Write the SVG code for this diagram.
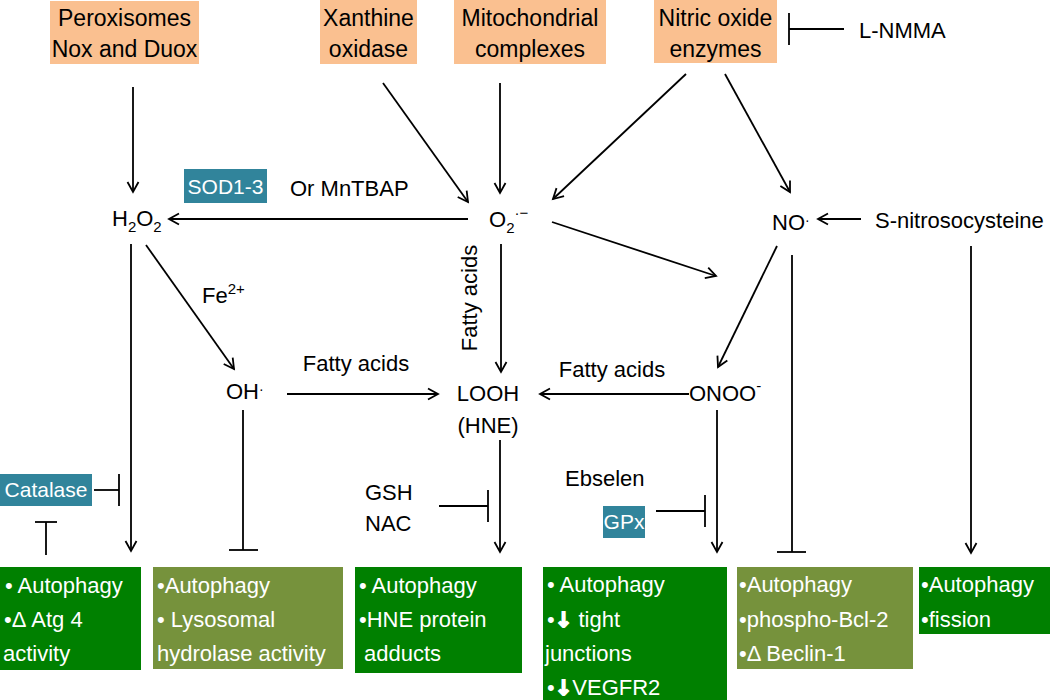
<svg xmlns="http://www.w3.org/2000/svg" width="1050" height="700" viewBox="0 0 1050 700">
<defs>
<marker id="ah" markerUnits="userSpaceOnUse" markerWidth="14" markerHeight="14" refX="11" refY="7" orient="auto">
<path d="M1,1.5 L11,7 L1,12.5" fill="none" stroke="#000" stroke-width="1.8"/>
</marker>
<style>
text{font-family:"Liberation Sans",Arial,sans-serif;font-size:22px;fill:#000}
.src rect{fill:#FAC090}
.src text{font-size:23px;text-anchor:middle}
.teal rect{fill:#31849B}
.teal text{fill:#fff;font-size:21px;text-anchor:middle}
.g rect{fill:#008000}
.o rect{fill:#76923C}
.g text,.o text{fill:#fff;font-size:22px}
.conn line{stroke:#000;stroke-width:1.8}
.conn .a{marker-end:url(#ah)}
.mid{text-anchor:middle}
.arr{font-family:"DejaVu Sans",sans-serif;font-weight:bold;font-size:21px;stroke:#fff;stroke-width:1.6}
</style>
</defs>
<rect width="1050" height="700" fill="#fff"/>

<g id="peroxisomes" class="src"><rect x="50" y="1" width="149" height="63"/><text x="124.5" y="26">Peroxisomes</text><text x="124.5" y="57">Nox and Duox</text></g>
<g id="xanthine" class="src"><rect x="320" y="0" width="97" height="64"/><text x="368.5" y="26">Xanthine</text><text x="368.5" y="57">oxidase</text></g>
<g id="mito" class="src"><rect x="454" y="0" width="152" height="64"/><text x="530" y="26">Mitochondrial</text><text x="530" y="57">complexes</text></g>
<g id="nos" class="src"><rect x="654" y="0" width="123" height="63"/><text x="715.5" y="26">Nitric oxide</text><text x="715.5" y="57">enzymes</text></g>
<g id="lnmma"><text x="859" y="38">L-NMMA</text></g>

<g id="h2o2"><text x="112" y="226">H<tspan font-size="15" dy="6">2</tspan><tspan dy="-6">O</tspan><tspan font-size="15" dy="6">2</tspan></text></g>
<g id="sod" class="teal"><rect x="184" y="169" width="83" height="34"/><text x="225.5" y="194">SOD1-3</text></g>
<g id="mntbap"><text x="290" y="196">Or MnTBAP</text></g>
<g id="o2"><text x="489" y="227">O<tspan font-size="15" dy="6">2</tspan><tspan font-size="15" dy="-15">·−</tspan></text></g>
<g id="no"><text x="772" y="230">NO<tspan font-size="14" dy="-5">·</tspan></text></g>
<g id="snitro"><text x="875" y="228">S-nitrosocysteine</text></g>
<g id="fe"><text x="202" y="303">Fe<tspan font-size="15" dy="-9">2+</tspan></text></g>
<g id="oh"><text x="226" y="399">OH<tspan font-size="14" dy="-5">·</tspan></text></g>
<g id="looh"><text x="488" y="401" class="mid">LOOH</text><text x="488" y="433" class="mid">(HNE)</text></g>
<g id="onoo"><text x="689" y="401">ONOO<tspan font-size="15" dy="-10">-</tspan></text></g>
<g id="fa1"><text x="356" y="371" class="mid">Fatty acids</text></g>
<g id="fa2"><text x="612" y="377" class="mid">Fatty acids</text></g>
<g id="fa3"><text transform="translate(477,298) rotate(-90)" class="mid">Fatty acids</text></g>
<g id="catalase" class="teal"><rect x="0" y="474" width="92" height="32"/><text x="46" y="497">Catalase</text></g>
<g id="gsh"><text x="365" y="500">GSH</text><text x="365" y="531">NAC</text></g>
<g id="ebselen"><text x="565" y="486">Ebselen</text></g>
<g id="gpx" class="teal"><rect x="603" y="506" width="42" height="32"/><text x="624" y="529">GPx</text></g>

<g id="out1" class="g"><rect x="0" y="567" width="141" height="103"/><text x="5" y="593">• Autophagy</text><text x="4" y="627">•Δ Atg 4</text><text x="3" y="661">activity</text></g>
<g id="out2" class="o"><rect x="153" y="567" width="190" height="102"/><text x="157" y="593">•Autophagy</text><text x="157" y="627">• Lysosomal</text><text x="157" y="661">hydrolase activity</text></g>
<g id="out3" class="g"><rect x="355" y="567" width="167" height="106"/><text x="359" y="593">• Autophagy</text><text x="359" y="627">•HNE protein</text><text x="364" y="661">adducts</text></g>
<g id="out4" class="g"><rect x="543" y="567" width="184" height="133"/><text x="547" y="592">• Autophagy</text><text x="547" y="627">•<tspan class="arr">↓</tspan> tight</text><text x="545" y="661">junctions</text><text x="547" y="695">•<tspan class="arr">↓</tspan>VEGFR2</text></g>
<g id="out5" class="o"><rect x="737" y="567" width="176" height="102"/><text x="739" y="592">•Autophagy</text><text x="739" y="627">•phospho-Bcl-2</text><text x="739" y="661">•Δ Beclin-1</text></g>
<g id="out6" class="g"><rect x="919" y="567" width="131" height="67"/><text x="921" y="592">•Autophagy</text><text x="921" y="627">•fission</text></g>

<g id="connectors" class="conn">
<line class="a" x1="133" y1="87" x2="133" y2="192"/>
<line class="a" x1="383" y1="83" x2="468" y2="202"/>
<line class="a" x1="500" y1="83" x2="500" y2="193"/>
<line class="a" x1="686" y1="74" x2="553" y2="199"/>
<line class="a" x1="725" y1="74" x2="790" y2="192"/>
<line x1="844" y1="29" x2="789" y2="29"/><line x1="789" y1="13" x2="789" y2="45"/>
<line class="a" x1="468" y1="219" x2="169" y2="219"/>
<line class="a" x1="552" y1="222" x2="716" y2="276"/>
<line class="a" x1="861" y1="219" x2="818" y2="219"/>
<line class="a" x1="131" y1="244" x2="131" y2="551"/>
<line class="a" x1="146" y1="245" x2="234" y2="369"/>
<line class="a" x1="501" y1="244" x2="501" y2="372"/>
<line class="a" x1="777" y1="246" x2="718" y2="367"/>
<line class="a" x1="287" y1="394" x2="438" y2="394"/>
<line class="a" x1="689" y1="394" x2="540" y2="394"/>
<line x1="243" y1="410" x2="243" y2="550"/><line x1="229" y1="550" x2="258" y2="550"/>
<line class="a" x1="500" y1="440" x2="500" y2="552"/>
<line class="a" x1="717" y1="410" x2="717" y2="552"/>
<line x1="792" y1="255" x2="792" y2="552"/><line x1="777" y1="552" x2="806" y2="552"/>
<line class="a" x1="971" y1="246" x2="971" y2="553"/>
<line x1="94" y1="490" x2="119" y2="490"/><line x1="119" y1="474" x2="119" y2="506"/>
<line x1="46" y1="522" x2="46" y2="555"/><line x1="35" y1="522" x2="57" y2="522"/>
<line x1="439" y1="506" x2="488" y2="506"/><line x1="488" y1="490" x2="488" y2="522"/>
<line x1="656" y1="511" x2="705" y2="511"/><line x1="705" y1="495" x2="705" y2="527"/>
</g>
</svg>
